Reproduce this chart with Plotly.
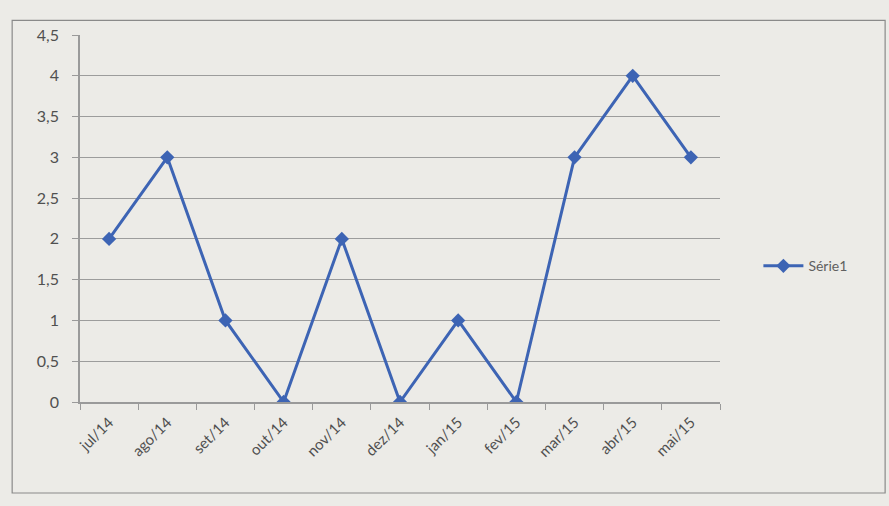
import plotly.graph_objects as go

categorias = ["jul/14", "ago/14", "set/14", "out/14", "nov/14", "dez/14",
              "jan/15", "fev/15", "mar/15", "abr/15", "mai/15"]
serie1 = [2, 3, 1, 0, 2, 0, 1, 0, 3, 4, 3]
y_ticks = [0, 0.5, 1, 1.5, 2, 2.5, 3, 3.5, 4, 4.5]
y_labels = ["0", "0,5", "1", "1,5", "2", "2,5", "3", "3,5", "4", "4,5"]

fig = go.Figure()
fig.add_trace(go.Scatter(
    x=categorias, y=serie1, mode="lines+markers", name="Série1",
    line=dict(color="#3d64b4", width=3),
    marker=dict(symbol="diamond", size=11, color="#3d64b4"),
))

fig.update_layout(
    width=889, height=506,
    margin=dict(l=80, r=169, t=35, b=104),
    paper_bgcolor="#ecebe7", plot_bgcolor="#ecebe7",
    font=dict(family="Lato, Open Sans, sans-serif", size=15, color="#505050"),
    showlegend=True,
    legend=dict(x=1.06, y=0.37, yanchor="middle", xanchor="left",
                itemwidth=40,
                bgcolor="rgba(0,0,0,0)", font=dict(size=14, color="#606060")),
    shapes=[dict(type="rect", xref="paper", yref="paper",
                 x0=-0.106, x1=1.258, y0=-0.248, y1=1.04,
                 line=dict(color="#8a8a8a", width=1.2))],
)
fig.update_xaxes(
    type="category", tickangle=-45, showgrid=False,
    showline=True, linecolor="#9a9a9a", linewidth=1.5,
    ticks="outside", ticklen=6, tickcolor="#9a9a9a", tickson="boundaries",
    range=[-0.5, 10.5], ticklabelstandoff=4,
)
fig.update_yaxes(
    range=[0, 4.5], tickvals=y_ticks, ticktext=y_labels,
    showgrid=True, gridcolor="#9c9c9c", gridwidth=1,
    showline=True, linecolor="#9a9a9a", linewidth=1.5,
    ticks="outside", ticklen=6, tickcolor="#9a9a9a",
    zeroline=False, ticklabelstandoff=10, tickfont=dict(size=16),
)

fig.write_html("out.html", config={"displayModeBar": False},
               post_script="document.body.style.margin='0';")
